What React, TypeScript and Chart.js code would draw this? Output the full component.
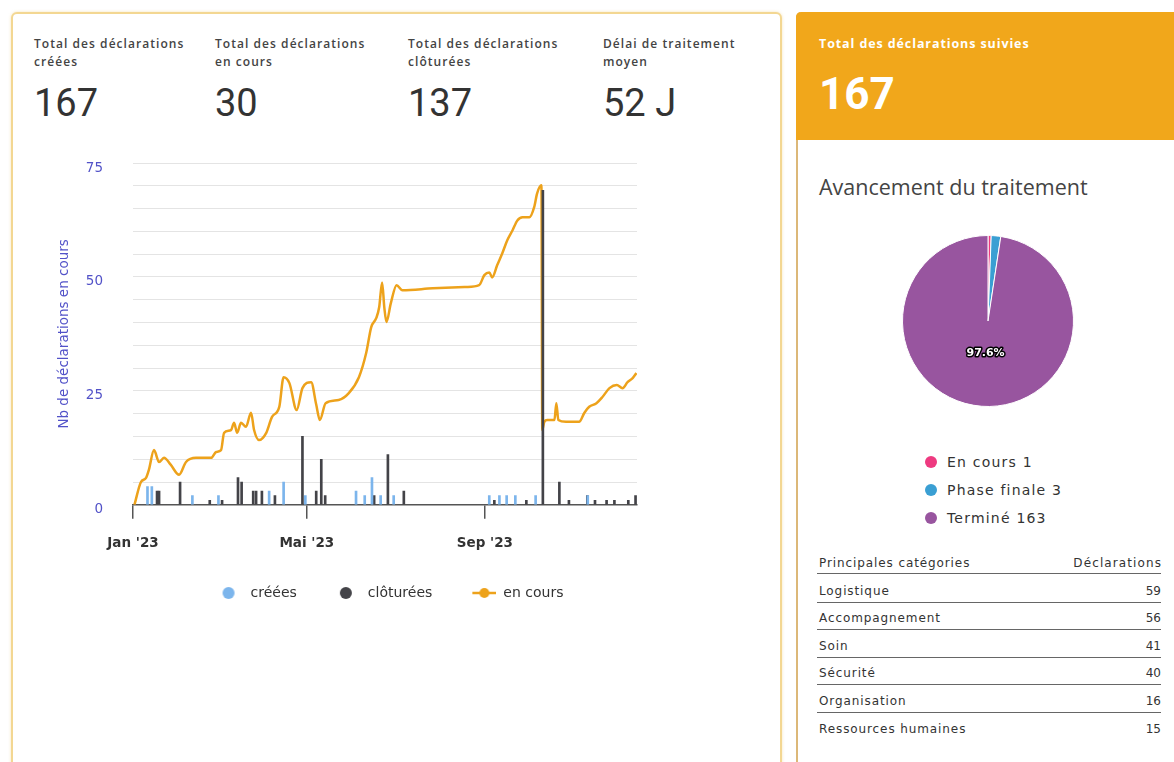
import React, { useEffect, useRef } from 'react';
import { Chart, registerables } from 'chart.js';

Chart.register(...registerables);

// ---------- DATA ----------
const kpiLabelLines: string[][] = [
  ['Total des déclarations', 'créées'],
  ['Total des déclarations', 'en cours'],
  ['Total des déclarations', 'clôturées'],
  ['Délai de traitement', 'moyen'],
];
const kpiValues = ['167', '30', '137', '52 J'];

const suiviLabel = 'Total des déclarations suivies';
const suiviValue = '167';

const seriesNames = ['créées', 'clôturées', 'en cours'];
const yAxisTitle = 'Nb de déclarations en cours';

// x = days since 1 Jan 2023
const xTickDays = [0, 120, 243];
const xTickLabels = ["Jan '23", "Mai '23", "Sep '23"];
const yTickLabels = [0, 25, 50, 75];

const enCoursDays = [1, 5.5, 9, 11, 14.5, 18, 21.4, 26, 31.8, 36.6, 43.5, 54, 57.4, 60.8, 62.9, 67.7, 69.8, 71.9, 74.6, 78, 81.5, 83.6, 87, 92, 96, 101, 104, 108, 113, 117, 123, 126.5, 129, 133, 142, 149, 156, 161, 164.5, 168, 170, 172, 173.5, 175, 178, 182, 186, 207, 230, 239, 242.6, 246, 248, 251.5, 255, 258.5, 262, 265.4, 269, 273.7, 277, 279, 282, 282.6, 284, 286, 291, 292.3, 293.7, 299, 308, 311.7, 315, 320, 324, 329, 334, 338, 341.5, 345, 347.6];
const enCoursValues = [0, 5, 5.9, 7.7, 12, 9.4, 10.3, 8.8, 6.6, 9.4, 10.3, 10.3, 11.6, 12, 15.8, 16.4, 18, 15.8, 18, 17.1, 20.2, 16.4, 14.2, 15.8, 19.3, 21.5, 28, 26.7, 20.8, 25.6, 26.9, 22, 18.6, 22.3, 23, 24.5, 28, 33.3, 39, 41, 43.4, 48.8, 43.4, 40.1, 44.2, 48.2, 47.1, 47.5, 47.8, 48.2, 50.4, 51, 49.9, 52.6, 55.2, 58.1, 60.2, 62.4, 63.1, 63.1, 65.3, 68.3, 70.1, 16.4, 18.2, 18.6, 18.6, 22.3, 18.6, 18.2, 18.2, 20.2, 21.5, 22.3, 23.6, 25.6, 26.3, 25.6, 26.9, 27.8, 28.9];

const creeesDays = [10, 13, 41, 59, 94, 104, 119, 154, 160, 165, 171, 180, 246, 253, 258, 264, 278, 314];
const creeesValues = [4, 4, 2, 2, 3, 5, 2, 3, 2, 6, 2, 2, 2, 2, 2, 2, 2, 2];

const clotureesDays = [16.6, 18, 32.5, 53, 61.5, 72.5, 75, 83, 85, 89, 98, 117, 126.5, 130, 132.7, 166.5, 176, 187, 249.5, 271.6, 283, 294.4, 301, 313.7, 319, 327, 332.4, 342, 347];
const clotureesValues = [3, 3, 5, 1, 1, 6, 5, 3, 3, 3, 2, 15, 3, 10, 2, 2, 11, 3, 1, 1, 69, 5, 1, 2, 1, 1, 1, 1, 2];

const pieTitle = 'Avancement du traitement';
const pieLabels = ['En cours', 'Phase finale', 'Terminé'];
const pieValues = [1, 3, 163];
const pieColors = ['#ee3a80', '#3a9fd3', '#98559f'];

const tableHeaders = ['Principales catégories', 'Déclarations'];
const categories = ['Logistique', 'Accompagnement', 'Soin', 'Sécurité', 'Organisation', 'Ressources humaines'];
const categoryCounts = [59, 56, 41, 40, 16, 15];

// ---------- STYLE ----------
const COL_CREEES = '#7cb5ec';
const COL_CLOTUREES = '#434348';
const COL_ENCOURS = '#eda21b';
const AXIS_BLUE = '#5252c8';
const CHART_FONT = '"DejaVu Sans", Verdana, sans-serif';
const UI_FONT = '"Open Sans", Roboto, sans-serif';
const ICON_W = 47;

function legendIcon(kind: 'dot' | 'line', color: string): HTMLCanvasElement {
  const c = document.createElement('canvas');
  c.width = ICON_W;
  c.height = 14;
  const g = c.getContext('2d') as CanvasRenderingContext2D;
  g.fillStyle = color;
  g.strokeStyle = color;
  if (kind === 'line') {
    g.lineWidth = 2.5;
    g.beginPath();
    g.moveTo(ICON_W - 24, 7);
    g.lineTo(ICON_W, 7);
    g.stroke();
    g.beginPath();
    g.arc(ICON_W - 12, 7, 5, 0, Math.PI * 2);
    g.fill();
  } else {
    g.beginPath();
    g.arc(ICON_W - 15, 7, 6, 0, Math.PI * 2);
    g.fill();
  }
  return c;
}

const pieLabelPlugin = {
  id: 'pieLabel',
  afterDatasetsDraw(chart: any) {
    const meta = chart.getDatasetMeta(0);
    const data = chart.data.datasets[0].data as number[];
    const total = data.reduce((a, b) => a + b, 0);
    const ctx = chart.ctx as CanvasRenderingContext2D;
    meta.data.forEach((arc: any, i: number) => {
      const v = data[i];
      if (v / total < 0.05) return;
      const p = arc.getProps(['x', 'y', 'startAngle', 'endAngle', 'outerRadius'], true);
      const mid = (p.startAngle + p.endAngle) / 2;
      const r = p.outerRadius * 0.38;
      const x = p.x + Math.cos(mid) * r;
      const y = p.y + Math.sin(mid) * r;
      const txt = ((v / total) * 100).toFixed(1) + '%';
      ctx.save();
      ctx.font = 'bold 11px ' + CHART_FONT;
      ctx.textAlign = 'center';
      ctx.textBaseline = 'middle';
      ctx.lineJoin = 'round';
      ctx.lineWidth = 3;
      ctx.strokeStyle = '#000';
      ctx.strokeText(txt, x, y);
      ctx.fillStyle = '#fff';
      ctx.fillText(txt, x, y);
      ctx.restore();
    });
  },
};

export default function App() {
  const lineRef = useRef<HTMLCanvasElement | null>(null);
  const pieRef = useRef<HTMLCanvasElement | null>(null);

  useEffect(() => {
    const icons = [legendIcon('dot', COL_CREEES), legendIcon('dot', COL_CLOTUREES), legendIcon('line', COL_ENCOURS)];
    const toPts = (xs: number[], ys: number[]) => xs.map((x, i) => ({ x, y: ys[i] }));

    const main = new Chart(lineRef.current as HTMLCanvasElement, {
      type: 'bar',
      data: {
        datasets: [
          {
            type: 'bar',
            label: seriesNames[0],
            data: toPts(creeesDays, creeesValues) as any,
            backgroundColor: COL_CREEES,
            barThickness: 2,
            grouped: false,
            order: 1,
          },
          {
            type: 'bar',
            label: seriesNames[1],
            data: toPts(clotureesDays, clotureesValues) as any,
            backgroundColor: COL_CLOTUREES,
            barThickness: 2,
            grouped: false,
            order: 1,
          },
          {
            type: 'line',
            label: seriesNames[2],
            data: toPts(enCoursDays, enCoursValues) as any,
            borderColor: COL_ENCOURS,
            backgroundColor: COL_ENCOURS,
            borderWidth: 2.5,
            pointRadius: 0,
            cubicInterpolationMode: 'monotone',
            order: 2,
          } as any,
        ],
      },
      options: {
        animation: false,
        responsive: false,
        maintainAspectRatio: false,
        layout: { padding: 0, autoPadding: false },
        scales: {
          x: {
            type: 'linear',
            min: 0,
            max: 348,
            offset: false,
            afterBuildTicks: (s: any) => {
              s.ticks = xTickDays.map((v) => ({ value: v }));
            },
            ticks: {
              autoSkip: false,
              maxRotation: 0,
              padding: 17,
              color: '#333',
              font: { family: CHART_FONT, size: 13.5, weight: 'bold' },
              callback: (_v: any, i: number) => xTickLabels[i],
            },
            grid: { offset: false, drawOnChartArea: false, drawTicks: true, tickLength: 14, color: '#555', lineWidth: 1.5 },
            border: { display: true, color: '#555', width: 1.5 },
          },
          y: {
            type: 'linear',
            min: 0,
            max: 75,
            ticks: {
              stepSize: 5,
              padding: 30,
              labelOffset: 5,
              color: AXIS_BLUE,
              font: { family: CHART_FONT, size: 13.5 },
              callback: (v: any) => (yTickLabels.includes(v) ? String(v) : ''),
            },
            grid: { color: '#e4e4e4', drawTicks: false, lineWidth: 1 },
            border: { display: false },
            title: { display: true, text: yAxisTitle, color: AXIS_BLUE, font: { family: CHART_FONT, size: 13.5 } },
            afterFit: (s: any) => {
              s.width = 81;
              s.paddingTop = 13;
              s.paddingBottom = 0;
            },
          },
          y2: {
            type: 'linear',
            position: 'right',
            display: true,
            grid: { display: false, drawTicks: false },
            ticks: { display: false },
            border: { display: false },
            afterFit: (s: any) => {
              s.width = 71;
              s.paddingTop = 0;
              s.paddingBottom = 0;
            },
          },
        },
        plugins: {
          tooltip: { enabled: false },
          legend: {
            display: true,
            position: 'bottom',
            labels: {
              usePointStyle: true,
              pointStyleWidth: ICON_W,
              padding: 17,
              color: '#333',
              font: { family: CHART_FONT, size: 14 },
              generateLabels: (chart: any) =>
                chart.data.datasets.map((ds: any, i: number) => ({
                  text: ds.label,
                  pointStyle: icons[i],
                  datasetIndex: i,
                  hidden: false,
                  fillStyle: 'rgba(0,0,0,0)',
                  strokeStyle: 'rgba(0,0,0,0)',
                  lineWidth: 0,
                  fontColor: '#333',
                })),
            },
          },
        },
      } as any,
    });

    const pie = new Chart(pieRef.current as HTMLCanvasElement, {
      type: 'pie',
      data: {
        labels: pieLabels,
        datasets: [{ data: pieValues, backgroundColor: pieColors, borderColor: '#ffffff', borderWidth: 1 }],
      },
      options: {
        animation: false,
        responsive: false,
        maintainAspectRatio: false,
        plugins: { legend: { display: false }, tooltip: { enabled: false } },
      },
      plugins: [pieLabelPlugin],
    });

    return () => {
      main.destroy();
      pie.destroy();
    };
  }, []);

  const kpiLefts = [34, 215, 408, 603];
  const rowTop0 = 576.5;
  const rowH = 27.5;

  return (
    <div
      style={{
        position: 'absolute',
        left: 0,
        top: 0,
        width: 1174,
        height: 762,
        overflow: 'hidden',
        background: '#fff',
        fontFamily: 'Roboto, sans-serif',
      }}
    >
      {/* left card */}
      <div
        style={{
          position: 'absolute',
          left: 11,
          top: 12,
          width: 771,
          height: 800,
          boxSizing: 'border-box',
          border: '2px solid #f3d792',
          borderRadius: 6,
          background: '#fff',
          boxShadow: '0 0 3px rgba(240,200,110,0.5)',
        }}
      />
      {kpiLabelLines.map((lines, i) => (
        <div key={'k' + i} style={{ position: 'absolute', left: kpiLefts[i], top: 35 }}>
          <div style={{ fontFamily: UI_FONT, fontSize: 12, fontWeight: 600, letterSpacing: '1.05px', lineHeight: '18px', color: '#444', whiteSpace: 'nowrap' }}>
            {lines.map((l, j) => (
              <div key={j}>{l}</div>
            ))}
          </div>
          <div style={{ position: 'absolute', top: 49, left: 0, fontSize: 38, lineHeight: '38px', color: '#333', whiteSpace: 'nowrap' }}>
            {kpiValues[i]}
          </div>
        </div>
      ))}
      <canvas
        ref={lineRef}
        width={656}
        height={460}
        style={{ position: 'absolute', left: 52, top: 150, width: 656, height: 460 }}
      />

      {/* right card */}
      <div
        style={{
          position: 'absolute',
          left: 796,
          top: 12,
          width: 400,
          height: 800,
          boxSizing: 'border-box',
          borderLeft: '2px solid #dcb878',
          borderTopLeftRadius: 5,
          background: '#fff',
        }}
      />
      <div
        style={{
          position: 'absolute',
          left: 796,
          top: 12,
          width: 400,
          height: 128,
          background: '#f1a71b',
          borderTopLeftRadius: 5,
        }}
      />
      <div style={{ position: 'absolute', left: 819, top: 35, fontFamily: UI_FONT, fontSize: 12.5, fontWeight: 700, letterSpacing: '0.9px', lineHeight: '18px', color: '#fff', whiteSpace: 'nowrap' }}>
        {suiviLabel}
      </div>
      <div style={{ position: 'absolute', left: 819, top: 72, fontSize: 44, fontWeight: 700, lineHeight: '44px', color: '#fff' }}>
        {suiviValue}
      </div>
      <div style={{ position: 'absolute', left: 819, top: 174, fontSize: 21.5, lineHeight: '26px', color: '#444', fontFamily: UI_FONT, whiteSpace: 'nowrap' }}>
        {pieTitle}
      </div>
      <canvas
        ref={pieRef}
        width={172}
        height={172}
        style={{ position: 'absolute', left: 902, top: 235, width: 172, height: 172 }}
      />
      {pieLabels.map((l, i) => (
        <div key={'pl' + i} style={{ position: 'absolute', left: 925, top: 454 + i * 28, height: 16, display: 'flex', alignItems: 'center', whiteSpace: 'nowrap' }}>
          <span style={{ display: 'inline-block', width: 12, height: 12, borderRadius: 6, background: pieColors[i], marginRight: 10 }} />
          <span style={{ fontFamily: CHART_FONT, fontSize: 14, letterSpacing: '1.2px', color: '#333' }}>
            {l} {pieValues[i]}
          </span>
        </div>
      ))}

      {/* table */}
      <div style={{ position: 'absolute', left: 817, top: 553, width: 344, fontFamily: CHART_FONT, fontSize: 12, letterSpacing: '0.9px', color: '#333' }}>
        <div style={{ display: 'flex', justifyContent: 'space-between', height: 20, lineHeight: '20px', borderBottom: '1.5px solid #666', paddingLeft: 2 }}>
          <span>{tableHeaders[0]}</span>
          <span style={{ letterSpacing: '1.1px', marginRight: -1 }}>{tableHeaders[1]}</span>
        </div>
      </div>
      {categories.map((c, i) => (
        <div
          key={'r' + i}
          style={{
            position: 'absolute',
            left: 817,
            top: rowTop0 + i * rowH,
            width: 344,
            height: rowH - 1.5,
            boxSizing: 'border-box',
            display: 'flex',
            justifyContent: 'space-between',
            alignItems: 'center',
            paddingTop: 3,
            paddingLeft: 2,
            borderBottom: i < categories.length - 1 ? '1.5px solid #666' : 'none',
            fontFamily: CHART_FONT,
            fontSize: 12,
            letterSpacing: '0.9px',
            color: '#333',
          }}
        >
          <span>{c}</span>
          <span style={{ letterSpacing: 0 }}>{categoryCounts[i]}</span>
        </div>
      ))}
    </div>
  );
}
